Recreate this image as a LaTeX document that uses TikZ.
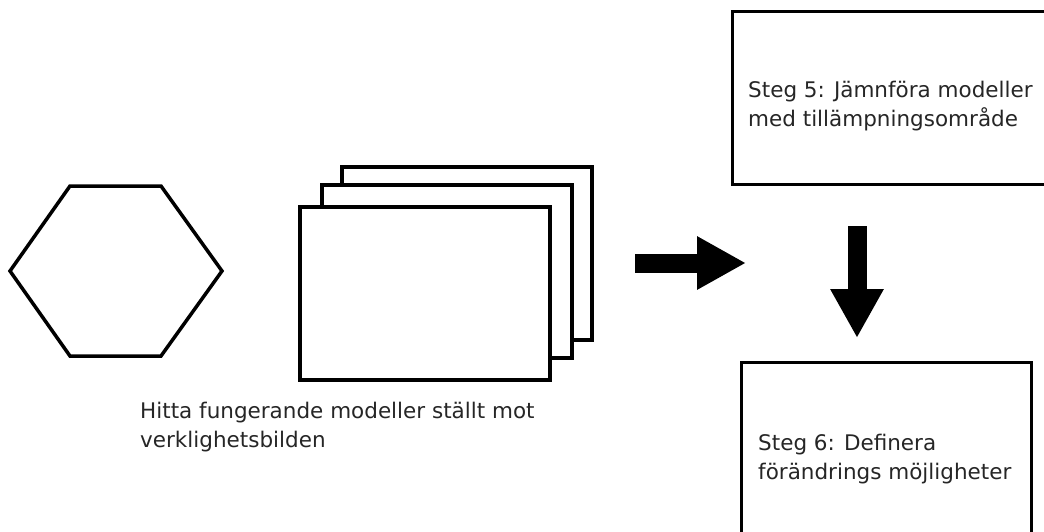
\documentclass[tikz,border=0pt]{standalone}
\usepackage{fontspec}
\setmainfont{DejaVu Sans}
\usetikzlibrary{arrows.meta}
\tikzset{
  outline/.style={draw=black, line width=3.5pt, fill=white},
  card/.style={outline, rectangle, minimum width=250pt, minimum height=173pt, anchor=north west, inner sep=0pt},
  stepbox/.style={draw=black, line width=3pt, fill=white, rectangle, anchor=north west, inner sep=0pt},
  caption/.style={anchor=west, align=left, inner sep=0pt, text=black!85,
    font=\fontsize{21.5pt}{29pt}\selectfont},
  bigarrow/.style={line width=19pt, -{Triangle[length=49pt,width=50pt]}},
}
\begin{document}
\begin{tikzpicture}[x=1pt,y=-1pt]
\useasboundingbox (0,0) rectangle (1044,531);
\clip (0,0) rectangle (1044,531);

% hexagon
\draw[outline, line join=miter] (10,271) -- (70,186) -- (161,186) -- (222,271) -- (161,356) -- (70,356) -- cycle;

% stacked cards, back to front
\node[card] (c3) at (340,165) {};
\node[card] (c2) at (320,183) {};
\node[card] (c1) at (298,205) {};

\node[caption] (t1) at (140,427) {Hitta fungerande modeller ställt mot\\verklighetsbilden};

% step boxes
\node[stepbox, minimum width=340pt, minimum height=173pt] (s5) at (731,10) {};
\node[caption] (t5) at (748,106) {Steg 5: Jämnföra modeller\\med tillämpningsområde};

\node[stepbox, minimum width=290pt, minimum height=190pt] (s6) at (740,361) {};
\node[caption] (t6) at (758,459) {Steg 6: Definera\\förändrings möjligheter};

% block arrows
\coordinate (r0) at (635,263);
\coordinate (r1) at (746,263);
\draw[bigarrow] (r0) -- (r1);
\coordinate (d0) at (857,226);
\coordinate (d1) at (857,338);
\draw[bigarrow] (d0) -- (d1);
\end{tikzpicture}
\end{document}
